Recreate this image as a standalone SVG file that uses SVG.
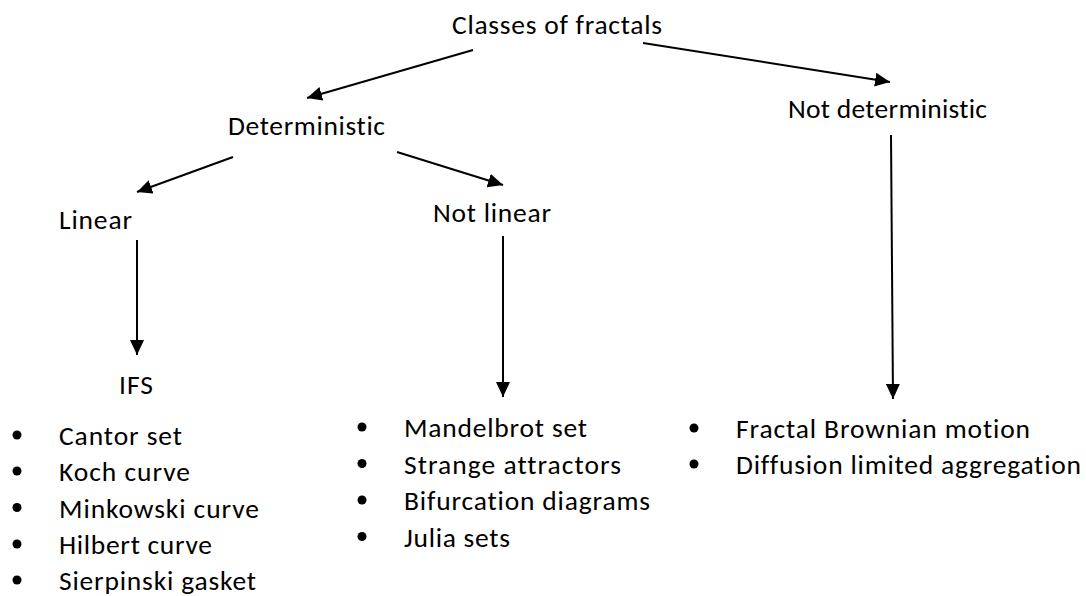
<svg xmlns="http://www.w3.org/2000/svg" width="1086" height="596" viewBox="0 0 1086 596">
<defs>
<style>
text{font-family:Calibri,Carlito,Lato,"Open Sans",sans-serif;font-size:27.5px;fill:#000;font-variant-ligatures:none}
.c{stroke:#000;stroke-width:2;fill:none;marker-end:url(#ah)}
.b{fill:#000}
</style>
<marker id="ah" markerUnits="userSpaceOnUse" markerWidth="16" markerHeight="14" refX="15" refY="7" orient="auto">
<path d="M0,0 L15,7 L0,14 z" fill="#000"/>
</marker>
</defs>
<rect width="1086" height="596" fill="#fff"/>
<g id="connectors">
<line class="c" x1="473" y1="50" x2="307" y2="98"/>
<line class="c" x1="643" y1="43" x2="890" y2="82"/>
<line class="c" x1="233" y1="157" x2="137" y2="192"/>
<line class="c" x1="397" y1="152" x2="503" y2="185"/>
<line class="c" x1="137" y1="240" x2="137" y2="355"/>
<line class="c" x1="503" y1="236" x2="503" y2="397"/>
<line class="c" x1="891" y1="135" x2="893" y2="399"/>
</g>
<g id="root"><text x="452" y="34" textLength="210">Classes of fractals</text></g>
<g id="deterministic"><text x="228" y="135" textLength="157">Deterministic</text></g>
<g id="not-deterministic"><text x="788" y="118" textLength="199">Not deterministic</text></g>
<g id="linear"><text x="59" y="229" textLength="73">Linear</text></g>
<g id="not-linear"><text x="433" y="222" textLength="118">Not linear</text></g>
<g id="ifs"><text x="119" y="394" textLength="34">IFS</text></g>
<g id="list-linear">
<circle class="b" cx="17" cy="435" r="4.5"/><text x="59" y="445" textLength="123">Cantor set</text>
<circle class="b" cx="17" cy="471" r="4.5"/><text x="59" y="481" textLength="131">Koch curve</text>
<circle class="b" cx="17" cy="507.5" r="4.5"/><text x="59" y="517.5" textLength="200">Minkowski curve</text>
<circle class="b" cx="17" cy="544" r="4.5"/><text x="59" y="554" textLength="153">Hilbert curve</text>
<circle class="b" cx="17" cy="580" r="4.5"/><text x="59" y="590" textLength="197">Sierpinski gasket</text>
</g>
<g id="list-not-linear">
<circle class="b" cx="362" cy="427" r="4.5"/><text x="404" y="437" textLength="183">Mandelbrot set</text>
<circle class="b" cx="362" cy="463.5" r="4.5"/><text x="404" y="473.5" textLength="217">Strange attractors</text>
<circle class="b" cx="362" cy="500" r="4.5"/><text x="404" y="510" textLength="246">Bifurcation diagrams</text>
<circle class="b" cx="362" cy="536.5" r="4.5"/><text x="404" y="546.5" textLength="106">Julia sets</text>
</g>
<g id="list-not-deterministic">
<circle class="b" cx="694" cy="428" r="4.5"/><text x="736" y="438" textLength="294">Fractal Brownian motion</text>
<circle class="b" cx="694" cy="464" r="4.5"/><text x="736" y="474" textLength="345">Diffusion limited aggregation</text>
</g>
</svg>
